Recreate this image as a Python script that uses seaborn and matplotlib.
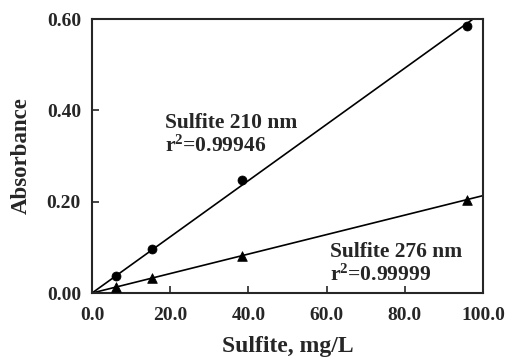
import numpy as np
import pandas as pd
import matplotlib
matplotlib.use("Agg")
import matplotlib.pyplot as plt
import seaborn as sns

# values
sulfite = [6.1, 15.3, 38.3, 95.8]
abs_210 = [0.038, 0.097, 0.247, 0.585]
abs_276 = [0.014, 0.034, 0.082, 0.204]
x_ticks = [0, 20, 40, 60, 80, 100]
y_ticks = [0.0, 0.2, 0.4, 0.6]

sns.set_style("ticks")
plt.rcParams['font.family'] = ['Liberation Serif', 'DejaVu Serif']
plt.rcParams['font.weight'] = 'bold'
plt.rcParams['mathtext.fontset'] = 'custom'
plt.rcParams['mathtext.rm'] = 'Liberation Serif:bold'
plt.rcParams['mathtext.it'] = 'Liberation Serif:bold'
plt.rcParams['mathtext.bf'] = 'Liberation Serif:bold'

df = pd.DataFrame({"x": sulfite, "a210": abs_210, "a276": abs_276})


def origin_fit(x, y):
    x = np.asarray(x)
    y = np.asarray(y)
    slope = (x * y).sum() / (x * x).sum()
    xs = np.array([0.0, 100.0])
    return pd.DataFrame({"x": xs, "y": slope * xs})


fit210 = origin_fit(sulfite, abs_210)
fit276 = origin_fit(sulfite, abs_276)

fig = plt.figure(figsize=(5.07, 3.60), dpi=100)
ax = fig.add_axes([0.1815, 0.186, 0.7712, 0.761])

sns.lineplot(data=fit210, x="x", y="y", color="black", lw=1.2, ax=ax)
sns.lineplot(data=fit276, x="x", y="y", color="black", lw=1.2, ax=ax)
sns.scatterplot(data=df, x="x", y="a210", marker="o", s=42, color="black",
                edgecolor="black", ax=ax, zorder=3)
sns.scatterplot(data=df, x="x", y="a276", marker="^", s=48, color="black",
                edgecolor="black", ax=ax, zorder=3)

ax.set_xlim(0, 100)
ax.set_ylim(0, 0.6)
ax.set_xticks(x_ticks)
ax.set_yticks(y_ticks)
ax.set_xticklabels([f"{v:.1f}" for v in x_ticks])
ax.set_yticklabels([f"{v:.2f}" for v in y_ticks])
ax.tick_params(direction="in", length=5, width=1.2, labelsize=14)
ax.tick_params(axis="x", pad=10)
ax.tick_params(axis="y", pad=8)
for s in ax.spines.values():
    s.set_visible(True)
    s.set_linewidth(1.5)

ax.set_xlabel("Sulfite, mg/L", fontsize=17, fontweight="bold", labelpad=9)
ax.set_ylabel("Absorbance", fontsize=16.5, fontweight="bold", labelpad=11)

ax.text(18.7, 0.395, "Sulfite 210 nm\nr$^{2}$=0.99946", fontsize=15.5,
        fontweight="bold", va="top", ha="left", linespacing=1.15)
ax.text(60.8, 0.112, "Sulfite 276 nm\nr$^{2}$=0.99999", fontsize=15.5,
        fontweight="bold", va="top", ha="left", linespacing=1.15)

fig.savefig("out.png", dpi=100)
